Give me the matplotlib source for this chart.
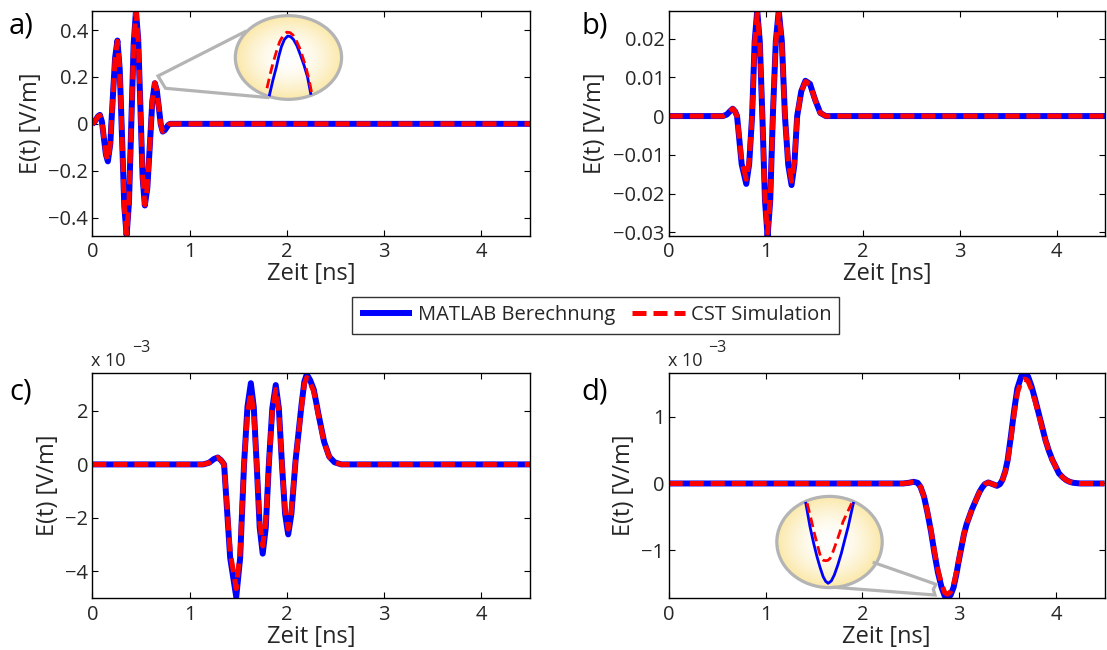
import numpy as np
import matplotlib
matplotlib.use("Agg")
import matplotlib.pyplot as plt
from matplotlib.patches import Ellipse
from matplotlib.lines import Line2D

# ---------------- data ----------------
# panel a) [V/m]
t_a = [0.000, 0.020, 0.039, 0.059, 0.078, 0.099, 0.119, 0.140, 0.160, 0.185, 0.209, 0.234,
       0.258, 0.282, 0.306, 0.329, 0.353, 0.377, 0.401, 0.425, 0.449, 0.472, 0.495, 0.517,
       0.540, 0.566, 0.592, 0.617, 0.643, 0.663, 0.684, 0.704, 0.724, 0.743, 0.762, 0.781,
       0.800, 4.500]
a_matlab = [0.000, 0.006, 0.019, 0.032, 0.038, 0.009, -0.061, -0.131, -0.160, -0.085, 0.098, 0.280,
            0.355, 0.233, -0.060, -0.353, -0.475, -0.335, 0.003, 0.340, 0.480, 0.359, 0.066, -0.227,
            -0.348, -0.272, -0.088, 0.097, 0.173, 0.143, 0.070, -0.003, -0.033, -0.028, -0.017, -0.005,
            0.000, 0.000]
a_cst = [0.000, 0.006, 0.019, 0.031, 0.036, 0.009, -0.060, -0.128, -0.156, -0.084, 0.097, 0.278,
         0.352, 0.232, -0.060, -0.350, -0.470, -0.333, 0.003, 0.338, 0.478, 0.358, 0.066, -0.225,
         -0.345, -0.270, -0.087, 0.098, 0.175, 0.144, 0.070, -0.003, -0.032, -0.027, -0.016, -0.005,
         0.000, 0.000]

# panel b) [V/m]
t_b = [0.000, 0.560, 0.600, 0.630, 0.660, 0.685, 0.705, 0.7525, 0.800, 0.830, 0.860, 0.8865,
       0.913, 0.9395, 0.966, 0.993, 1.020, 1.047, 1.074, 1.1045, 1.135, 1.167, 1.199, 1.233,
       1.267, 1.296, 1.325, 1.3675, 1.410, 1.457, 1.510, 1.564, 1.620, 4.500]
b_matlab = [0.0, 0.0, 0.0004, 0.0012, 0.0019, 0.0012, 0.0, -0.0124, -0.0175, -0.0124, 0.0, 0.0192,
            0.0272, 0.0192, 0.0, -0.0218, -0.0310, -0.0218, 0.0, 0.0192, 0.0272, 0.0192, 0.0, -0.0126,
            -0.0178, -0.0126, 0.0, 0.0064, 0.0091, 0.0083, 0.0042, 0.0008, 0.0, 0.0]
b_cst = [0.0, 0.0, 0.0004, 0.0012, 0.0019, 0.0012, 0.0, -0.0116, -0.0163, -0.0116, 0.0, 0.0188,
         0.0266, 0.0188, 0.0, -0.0214, -0.0302, -0.0214, 0.0, 0.0188, 0.0266, 0.0188, 0.0, -0.0119,
         -0.0168, -0.0119, 0.0, 0.0063, 0.0089, 0.0082, 0.0042, 0.0008, 0.0, 0.0]

# panel c) [x 10^-3 V/m]
t_c = [0.000, 1.140, 1.200, 1.250, 1.290, 1.325, 1.355, 1.4175, 1.480, 1.520, 1.560, 1.595,
       1.630, 1.660, 1.690, 1.721, 1.752, 1.7835, 1.815, 1.8505, 1.886, 1.918, 1.950, 1.982,
       2.014, 2.047, 2.090, 2.150, 2.180, 2.205, 2.240, 2.277, 2.330, 2.383, 2.436, 2.490,
       2.560, 4.500]
c_matlab = [0.0, 0.0, 0.06, 0.20, 0.26, 0.15, 0.0, -3.50, -4.96, -3.50, 0.0, 2.15,
            3.04, 2.15, 0.0, -2.36, -3.34, -2.36, 0.0, 2.10, 2.97, 2.10, 0.0, -1.85,
            -2.62, -1.85, 0.16, 2.20, 3.10, 3.37, 3.15, 2.80, 1.79, 0.85, 0.29, 0.08,
            0.0, 0.0]
c_cst = [0.0, 0.0, 0.06, 0.20, 0.26, 0.15, 0.0, -3.29, -4.65, -3.29, 0.0, 1.91,
         2.70, 1.91, 0.0, -2.16, -3.05, -2.16, 0.0, 1.98, 2.80, 1.98, 0.0, -1.71,
         -2.42, -1.71, 0.15, 2.12, 3.00, 3.25, 3.05, 2.72, 1.74, 0.83, 0.28, 0.08,
         0.0, 0.0]

# panel d) [x 10^-3 V/m]
t_d = [0.000, 2.420, 2.480, 2.530, 2.570, 2.600, 2.637, 2.674, 2.710, 2.745, 2.780, 2.817,
       2.850, 2.880, 2.910, 2.942, 2.970, 2.996, 3.023, 3.050, 3.076, 3.103, 3.130, 3.157,
       3.184, 3.210, 3.237, 3.264, 3.300, 3.345, 3.390, 3.420, 3.445, 3.475, 3.500, 3.533,
       3.568, 3.600, 3.640, 3.676, 3.710, 3.747, 3.785, 3.820, 3.855, 3.890, 3.925, 3.962,
       4.000, 4.030, 4.070, 4.105, 4.140, 4.177, 4.250, 4.500]
d_matlab = [0.0, 0.0, 0.01, 0.025, 0.01, -0.05, -0.20, -0.45, -0.73, -1.05, -1.33, -1.55,
            -1.68, -1.711, -1.67, -1.55, -1.36, -1.15, -0.95, -0.75, -0.61, -0.50, -0.39, -0.30,
            -0.21, -0.125, -0.06, -0.01, 0.015, -0.01, -0.035, -0.01, 0.05, 0.18, 0.35, 0.70,
            1.10, 1.42, 1.60, 1.646, 1.60, 1.45, 1.25, 1.05, 0.85, 0.65, 0.49, 0.35,
            0.24, 0.15, 0.09, 0.05, 0.025, 0.01, 0.0, 0.0]
d_cst = [0.0, 0.0, 0.01, 0.025, 0.01, -0.05, -0.20, -0.44, -0.71, -1.02, -1.29, -1.50,
         -1.63, -1.655, -1.62, -1.51, -1.33, -1.13, -0.94, -0.75, -0.61, -0.50, -0.39, -0.30,
         -0.21, -0.125, -0.06, -0.01, 0.015, -0.01, -0.035, -0.01, 0.05, 0.17, 0.33, 0.66,
         1.05, 1.35, 1.53, 1.56, 1.53, 1.40, 1.22, 1.03, 0.84, 0.65, 0.49, 0.35,
         0.24, 0.15, 0.09, 0.05, 0.025, 0.01, 0.0, 0.0]

# magnified views (insets)
ia_t_matlab = [0.6358, 0.6372, 0.6386, 0.6396, 0.6406, 0.6418, 0.6431, 0.6442, 0.6454, 0.6468, 0.6482, 0.6496, 0.6510, 0.6523]
ia_matlab = [0.1440, 0.1515, 0.1582, 0.1637, 0.1682, 0.1718, 0.1735, 0.1732, 0.1718, 0.1686, 0.1640, 0.1590, 0.1532, 0.1448]
ia_t_cst = [0.6348, 0.6360, 0.6372, 0.6386, 0.6399, 0.6413, 0.6427, 0.6440, 0.6452, 0.6466, 0.6479, 0.6491, 0.6503, 0.6516, 0.6528]
ia_cst = [0.1474, 0.1540, 0.1599, 0.1658, 0.1707, 0.1738, 0.1754, 0.1752, 0.1740, 0.1710, 0.1674, 0.1630, 0.1582, 0.1520, 0.1444]

id_t_matlab = [2.8717, 2.8742, 2.8764, 2.8784, 2.8803, 2.8821, 2.8836, 2.8851, 2.8870, 2.8888, 2.8909, 2.8930, 2.8950, 2.8971, 2.9002]
id_matlab = [-1.511, -1.5695, -1.611, -1.6445, -1.672, -1.6945, -1.706, -1.711, -1.705, -1.690, -1.665, -1.636, -1.603, -1.5695, -1.511]
id_t_cst = [2.8725, 2.8752, 2.8768, 2.8784, 2.8797, 2.8809, 2.8822, 2.8836, 2.8850, 2.8863, 2.8880, 2.8898, 2.8919, 2.8940, 2.8992]
id_cst = [-1.511, -1.557, -1.586, -1.611, -1.632, -1.6485, -1.6535, -1.6545, -1.6535, -1.6485, -1.632, -1.611, -1.586, -1.557, -1.511]

x_ticks = [0, 1, 2, 3, 4]
ya_ticks = [-0.4, -0.2, 0, 0.2, 0.4]
ya_labels = ["\u22120.4", "\u22120.2", "0", "0.2", "0.4"]
yb_ticks = [-0.03, -0.02, -0.01, 0, 0.01, 0.02]
yb_labels = ["\u22120.03", "\u22120.02", "\u22120.01", "0", "0.01", "0.02"]
yc_ticks = [-4, -2, 0, 2]
yc_labels = ["\u22124", "\u22122", "0", "2"]
yd_ticks = [-1, 0, 1]
yd_labels = ["\u22121", "0", "1"]

series_names = ["MATLAB Berechnung", "CST Simulation"]
panel_letters = ["a)", "b)", "c)", "d)"]
xlabel_text = "Zeit [ns]"
ylabel_text = "E(t) [V/m]"

# ---------------- style ----------------
plt.rcParams["font.family"] = ["Open Sans", "DejaVu Sans"]
TXT = "#262626"
BLUE = "#0000ff"
RED = "#ff0000"
GRAY = "#b4b4b4"
W, H = 1107, 650

fig = plt.figure(figsize=(W / 100, H / 100), dpi=100)


def rect(l, t, r, b):
    return [l / W, 1 - b / H, (r - l) / W, (b - t) / H]


def style(ax, ylim, yt, yl):
    ax.set_xlim(0, 4.5)
    ax.set_ylim(*ylim)
    ax.set_xticks(x_ticks)
    ax.set_xticklabels([str(v) for v in x_ticks])
    ax.set_yticks(yt)
    ax.set_yticklabels(yl)
    ax.tick_params(direction="in", length=4, width=0.8, top=True, right=True,
                   labelsize=14.5, labelcolor=TXT, pad=3)
    ax.tick_params(axis="x", pad=5)
    for s in ax.spines.values():
        s.set_linewidth(1.0)
    ax.set_xlabel(xlabel_text, fontsize=17, color=TXT, labelpad=0)
    ax.set_ylabel(ylabel_text, fontsize=17, color=TXT, labelpad=4)


def curves(ax, t, m, c):
    lm, = ax.plot(t, m, color=BLUE, lw=4.3, solid_capstyle="butt", solid_joinstyle="round")
    lc, = ax.plot(t, c, color=RED, lw=3.6, dashes=(2.8, 1.4), dash_joinstyle="round")
    return lm, lc


ax_a = fig.add_axes(rect(92.3, 11, 530, 235.5))
ax_b = fig.add_axes(rect(668.7, 11, 1105, 235.5))
ax_c = fig.add_axes(rect(92.3, 373.3, 530, 598))
ax_d = fig.add_axes(rect(668.7, 373.3, 1104.5, 598))

hm, hc = curves(ax_a, t_a, a_matlab, a_cst)
curves(ax_b, t_b, b_matlab, b_cst)
curves(ax_c, t_c, c_matlab, c_cst)
curves(ax_d, t_d, d_matlab, d_cst)

style(ax_a, (-0.476, 0.481), ya_ticks, ya_labels)
style(ax_b, (-0.0308, 0.0271), yb_ticks, yb_labels)
style(ax_c, (-5.0, 3.41), yc_ticks, yc_labels)
style(ax_d, (-1.711, 1.646), yd_ticks, yd_labels)

# panel letters
for (x, y), s in zip([(9, 34), (581, 34), (9, 400), (581, 400)], panel_letters):
    fig.text(x / W, 1 - y / H, s, fontsize=21, color="black", va="baseline", ha="left")

# exponent labels
for x0 in (91, 667.5):
    fig.text(x0 / W, 1 - 366 / H, "x 10", fontsize=13, color=TXT, va="baseline", ha="left")
    fig.text((x0 + 41) / W, 1 - 352 / H, "\u22123", fontsize=11.5, color=TXT, va="baseline", ha="left")

# legend
leg = fig.legend([hm, hc], series_names, loc="center", bbox_to_anchor=(595.5 / W, 1 - 315.5 / H),
                 ncol=2, fontsize=14.5, frameon=True, fancybox=False, edgecolor="black",
                 handlelength=2.6, handletextpad=0.3, columnspacing=0.85, borderpad=0.4,
                 labelcolor=TXT)
leg.get_frame().set_linewidth(1.0)


# ---------------- magnifier insets ----------------
def magnifier(box, xlim, ylim, tm, ym, tc, yc, callout):
    l, t, r, b = box
    ax = fig.add_axes(rect(l, t, r, b))
    ax.set_axis_off()
    n = 200
    gx, gy = np.meshgrid(np.linspace(-1, 1, n), np.linspace(-1, 1, n))
    rr = np.clip(np.sqrt(gx ** 2 + gy ** 2), 0, 1)
    w = rr ** 1.8
    c0 = np.array([1.0, 1.0, 1.0])
    c1 = np.array([251, 231, 165]) / 255
    img = c0[None, None, :] * (1 - w[..., None]) + c1[None, None, :] * w[..., None]
    ell = Ellipse((0.5, 0.5), 1.0, 1.0, transform=ax.transAxes, facecolor="none", edgecolor="none")
    ax.add_patch(ell)
    im = ax.imshow(img, extent=[xlim[0], xlim[1], ylim[0], ylim[1]], aspect="auto",
                   origin="lower", interpolation="bilinear")
    im.set_clip_path(ell)
    l1, = ax.plot(tm, ym, color=BLUE, lw=2.0)
    l2, = ax.plot(tc, yc, color=RED, lw=2.0, dashes=(3.5, 1.8))
    l1.set_clip_path(ell)
    l2.set_clip_path(ell)
    ax.set_xlim(*xlim)
    ax.set_ylim(*ylim)
    edge = Ellipse((0.5, 0.5), 0.985, 0.985, transform=ax.transAxes, facecolor="none",
                   edgecolor=GRAY, lw=2.3, clip_on=False)
    ax.add_patch(edge)
    xs = [p[0] / W for p in callout]
    ys = [1 - p[1] / H for p in callout]
    fig.add_artist(Line2D(xs, ys, color=GRAY, lw=2.3, transform=fig.transFigure,
                          solid_joinstyle="miter"))


magnifier((234.5, 15, 342.4, 100), (0.6218, 0.6650), (0.1415, 0.184),
          ia_t_matlab, ia_matlab, ia_t_cst, ia_cst,
          [(245, 31.7), (158, 76), (165.5, 88.3), (267.5, 97.5)])
magnifier((776, 495.7, 883, 588.3), (2.8538, 2.918), (-1.7235, -1.492),
          id_t_matlab, id_matlab, id_t_cst, id_cst,
          [(874.2, 562.7), (936, 584.3), (933.3, 589.3), (935, 595), (834.3, 587.3)])

fig.savefig("out.png", dpi=100)
